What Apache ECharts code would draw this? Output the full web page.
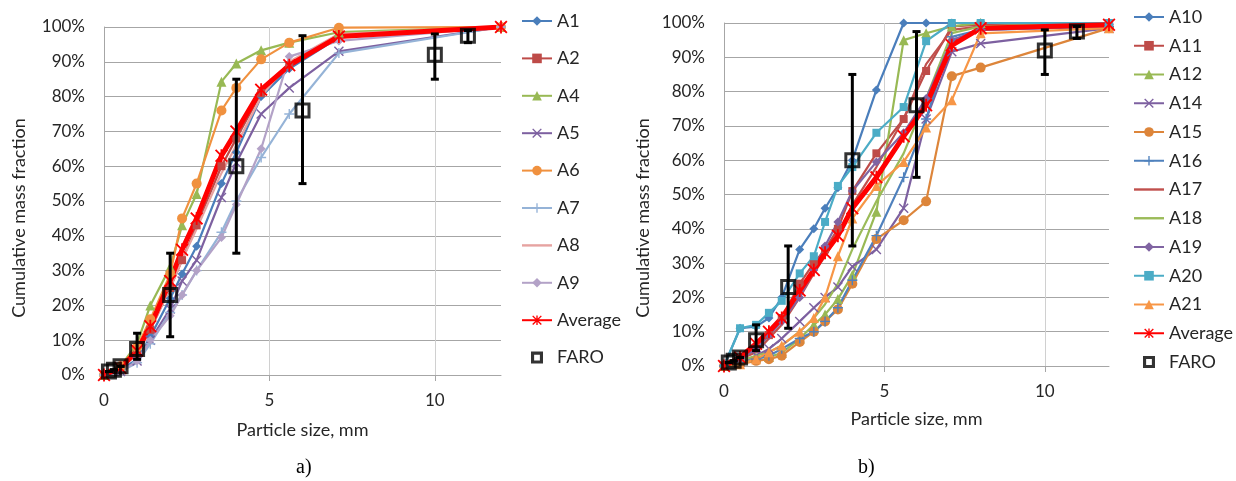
<!DOCTYPE html>
<html>
<head>
<meta charset="utf-8">
<script src="https://cdn.jsdelivr.net/npm/echarts@6/dist/echarts.min.js"></script>
<style>
  html, body { margin: 0; padding: 0; background: #fff; }
  #chart { width: 1236px; height: 481px; }
</style>
</head>
<body>
<div id="chart"></div>
<script>
// sieve sizes, mm
const leftSizes = [0, 0.5, 1, 1.4, 2, 2.36, 2.8, 3.55, 4, 4.75, 5.6, 7.1, 12];
const rightSizes = [0, 0.5, 1, 1.4, 1.8, 2.36, 2.8, 3.15, 3.55, 4, 4.75, 5.6, 6.3, 7.1, 8, 12];

// a) cumulative mass fraction, %
const a1 = [0, 1.5, 4.5, 11, 22, 29, 37, 55, 64, 80, 88, 97, 100];
const a2 = [0, 2, 6, 13, 25, 33, 43, 60, 68, 81, 89, 98, 100];
const a4 = [0, 2.5, 9, 20, 31, 43, 52, 84.3, 89.5, 93.3, 95.5, 98.5, 100];
const a5 = [0, 1, 4, 10, 19, 27, 33, 51, 61, 75, 82.5, 93, 100];
const a6 = [0, 2.5, 8, 16, 29, 45, 55, 76, 82.5, 90.7, 95.5, 99.8, 100];
const a7 = [0, 1, 3.5, 9, 18, 23, 30, 41, 50, 62.5, 75, 92.5, 100];
const a8 = [0, 2, 6, 13, 25, 33, 42, 58, 66, 80, 90, 98, 100];
const a9 = [0, 1, 4, 10, 17, 23, 30, 39.5, 49, 65, 91.5, 96, 100];
const avgLeft = [0, 2, 7, 14, 27, 36, 45, 63, 70, 82, 89, 97.3, 100];

// b) cumulative mass fraction, %
const a10 = [0, 11, 11.5, 14, 20, 34, 40, 46, 52, 60, 80.5, 100, 100, 100, 100, 100];
const a11 = [0, 2, 5, 9, 14, 24, 30, 34, 40, 51, 62, 72, 86, 99, 99.5, 100];
const a12 = [0, 2, 2.5, 2.6, 3.8, 8, 12, 15, 19.5, 26.5, 45, 95, 97, 99, 100, 100];
const a14 = [0, 1, 3, 5, 8, 13, 17, 20, 23, 29, 34, 46, 72, 91.6, 94, 98.5];
const a15 = [0, 0.5, 1.5, 2, 3, 7, 10, 13, 16.5, 24, 37, 42.5, 48, 84.5, 87, 98.5];
const a16 = [0, 1, 2, 3, 5, 8, 10, 13, 17, 25, 38, 55, 72, 96, 98, 99];
const a17 = [0, 2, 4, 8, 12, 20, 27, 32, 38, 47, 58, 72, 88, 98, 99, 100];
const a18 = [0, 1.5, 3, 4, 6, 10, 14, 18, 24, 34, 48, 62, 78, 97, 99, 100];
const a19 = [0, 2, 5, 9, 13, 20, 28, 35, 42, 51, 59.5, 68, 78, 95, 98, 99];
const a20 = [0, 11, 12, 15.5, 19, 27, 32, 42, 52.5, 58, 68, 75.5, 94.7, 100, 100, 100];
const a21 = [0, 0.5, 2, 4, 6, 10, 14, 20, 32, 43, 52.5, 59.5, 69.5, 77.5, 97, 98.5];
const avgRight = [0, 2.5, 6.5, 10, 14, 22, 28, 33, 38, 46, 55, 67, 76, 93.5, 98.5, 99.5];

// FARO with error bars (same in both panels)
const faroSizes = [0.15, 0.3, 0.5, 1, 2, 4, 6, 10, 11];
const faroValues = [1, 1.5, 2.5, 7.5, 23, 60, 76, 92, 97.5];
const faroLow = [1, 1.5, 2.5, 4.5, 11, 35, 55, 85, 95.5];
const faroHigh = [1, 1.5, 2.5, 12, 35, 85, 97.5, 98, 99];

const xTicks = [0, 5, 10];

const FONT = "Lato";
const TXT = "#262626";

const SYM_X = "path://M0,1 L1,0 L5,4 L9,0 L10,1 L6,5 L10,9 L9,10 L5,6 L1,10 L0,9 L4,5 Z";
const SYM_PLUS = "path://M4.3,0 H5.7 V4.3 H10 V5.7 H5.7 V10 H4.3 V5.7 H0 V4.3 H4.3 Z";
const SYM_STAR = "path://M0,1 L1,0 L5,4 L9,0 L10,1 L6,5 L10,9 L9,10 L5,6 L1,10 L0,9 L4,5 Z M4.3,0 H5.7 V10 H4.3 Z";
const ICON_LINE = "path://M0,0 H30 V2.4 H0 Z";
const ICON_BOX = "path://M0,0 H10 V10 H0 Z M2.6,2.6 V7.4 H7.4 V2.6 Z";

function pairs(xs, ys) {
  return xs.map((x, i) => [x, ys[i]]);
}

function lineSeries(name, xs, ys, color, symbol, size, idx, width) {
  return {
    name: name,
    type: "line",
    xAxisIndex: idx,
    yAxisIndex: idx,
    data: pairs(xs, ys),
    symbol: symbol,
    symbolSize: size,
    showSymbol: symbol !== "none",
    lineStyle: { color: color, width: width || 2.2 },
    itemStyle: { color: color },
    emphasis: { disabled: true },
  };
}

function faroSeries(idx) {
  return [
    {
      name: "FARO error",
      type: "custom",
      xAxisIndex: idx,
      yAxisIndex: idx,
      data: faroSizes.map((x, i) => [x, faroLow[i], faroHigh[i]]),
      encode: { x: 0, y: [1, 2] },
      z: 5,
      renderItem: function (params, api) {
        const lo = api.coord([api.value(0), api.value(1)]);
        const hi = api.coord([api.value(0), api.value(2)]);
        const w = 4;
        const st = { stroke: "#000", lineWidth: 3 };
        return {
          type: "group",
          children: [
            { type: "line", shape: { x1: lo[0], y1: lo[1], x2: hi[0], y2: hi[1] }, style: st },
            { type: "line", shape: { x1: lo[0] - w, y1: lo[1], x2: lo[0] + w, y2: lo[1] }, style: st },
            { type: "line", shape: { x1: hi[0] - w, y1: hi[1], x2: hi[0] + w, y2: hi[1] }, style: st },
          ],
        };
      },
    },
    {
      name: "FARO",
      type: "scatter",
      xAxisIndex: idx,
      yAxisIndex: idx,
      data: pairs(faroSizes, faroValues),
      symbol: "rect",
      symbolSize: 13,
      z: 6,
      itemStyle: { color: "rgba(255,255,255,0)", borderColor: "#000", borderWidth: 3 },
      emphasis: { disabled: true },
    },
  ];
}

function xAxis(idx) {
  return {
    type: "value",
    gridIndex: idx,
    min: 0,
    max: 12,
    interval: 1,
    name: "Particle size, mm",
    nameLocation: "middle",
    nameGap: idx === 0 ? 46 : 44,
    nameTextStyle: { fontFamily: FONT, fontSize: 18, color: TXT },
    axisLine: { lineStyle: { color: "#a6a6a6", width: 1 } },
    axisTick: { show: true, customValues: xTicks, length: 6, lineStyle: { color: "#a6a6a6" } },
    axisLabel: { customValues: xTicks, fontFamily: FONT, fontSize: 17, color: TXT, margin: 17 },
    splitLine: { show: true, lineStyle: { color: "#d0d0d0", width: 1 } },
  };
}

function yAxis(idx) {
  return {
    type: "value",
    gridIndex: idx,
    min: 0,
    max: 100,
    interval: 10,
    axisLine: { show: true, lineStyle: { color: "#a6a6a6", width: 1 } },
    axisTick: { show: false },
    axisLabel: { formatter: "{value}%", fontFamily: FONT, fontSize: 17, color: TXT, margin: 19 },
    splitLine: { show: true, lineStyle: { color: "#a6a6a6", width: 1 } },
  };
}

// y titles sit lower than the plot middle in the original, so place them by hand
function yTitle(x, y) {
  return {
    type: "text",
    x: x,
    y: y,
    rotation: Math.PI / 2,
    style: {
      text: "Cumulative mass fraction",
      font: "18px " + FONT,
      fill: TXT,
      align: "center",
      verticalAlign: "middle",
    },
  };
}

const series = [
  lineSeries("A1", leftSizes, a1, "#4a7ebb", "diamond", 9, 0),
  lineSeries("A2", leftSizes, a2, "#be4b48", "rect", 8, 0),
  lineSeries("A4", leftSizes, a4, "#98b954", "triangle", 10, 0),
  lineSeries("A5", leftSizes, a5, "#7d60a0", SYM_X, 10, 0),
  lineSeries("A6", leftSizes, a6, "#f0913f", "circle", 10, 0),
  lineSeries("A7", leftSizes, a7, "#95b3d7", SYM_PLUS, 10, 0),
  lineSeries("A8", leftSizes, a8, "#e6a3a1", "none", 0, 0),
  lineSeries("A9", leftSizes, a9, "#b3a2c7", "diamond", 9, 0),
  lineSeries("Average", leftSizes, avgLeft, "#ff0000", SYM_STAR, 13, 0, 5),
  ...faroSeries(0),

  lineSeries("A10", rightSizes, a10, "#4a7ebb", "diamond", 9, 1),
  lineSeries("A11", rightSizes, a11, "#be4b48", "rect", 8, 1),
  lineSeries("A12", rightSizes, a12, "#98b954", "triangle", 10, 1),
  lineSeries("A14", rightSizes, a14, "#7d60a0", SYM_X, 10, 1),
  lineSeries("A15", rightSizes, a15, "#dd853a", "circle", 10, 1),
  lineSeries("A16", rightSizes, a16, "#4f81bd", SYM_PLUS, 10, 1),
  lineSeries("A17", rightSizes, a17, "#c0504d", "none", 0, 1),
  lineSeries("A18", rightSizes, a18, "#9bbb59", "none", 0, 1),
  lineSeries("A19", rightSizes, a19, "#8064a2", "diamond", 9, 1),
  lineSeries("A20", rightSizes, a20, "#4bacc6", "rect", 8, 1),
  lineSeries("A21", rightSizes, a21, "#f79646", "triangle", 10, 1),
  lineSeries("Average", rightSizes, avgRight, "#ff0000", SYM_STAR, 13, 1, 5),
  ...faroSeries(1),
];

const legendText = { fontFamily: FONT, fontSize: 18, color: TXT, lineHeight: 20 };
const faroItem = { name: "FARO", icon: ICON_BOX, itemStyle: { color: "#000", borderWidth: 0 } };

const option = {
  animation: false,
  backgroundColor: "#fff",
  title: [
    { text: "a)", left: 291, top: 453, textStyle: { fontFamily: "Liberation Serif", fontSize: 20, fontWeight: "normal", color: "#000" } },
    { text: "b)", left: 853, top: 453, textStyle: { fontFamily: "Liberation Serif", fontSize: 20, fontWeight: "normal", color: "#000" } },
  ],
  graphic: [yTitle(19, 218), yTitle(643, 218)],
  grid: [
    { left: 104, top: 27, width: 397, height: 348 },
    { left: 724, top: 23, width: 385, height: 343 },
  ],
  xAxis: [xAxis(0), xAxis(1)],
  yAxis: [yAxis(0), yAxis(1)],
  legend: [
    {
      orient: "vertical",
      left: 516,
      top: 6,
      itemWidth: 30,
      itemHeight: 12,
      itemGap: 17.4,
      selectedMode: false,
      textStyle: legendText,
      data: ["A1", "A2", "A4", "A5", "A6", "A7", { name: "A8", icon: ICON_LINE }, "A9", "Average", faroItem],
    },
    {
      orient: "vertical",
      left: 1128,
      top: 2,
      itemWidth: 30,
      itemHeight: 12,
      itemGap: 8.75,
      selectedMode: false,
      textStyle: legendText,
      data: ["A10", "A11", "A12", "A14", "A15", "A16",
        { name: "A17", icon: ICON_LINE }, { name: "A18", icon: ICON_LINE },
        "A19", "A20", "A21", "Average", faroItem],
    },
  ],
  series: series,
};

const chart = echarts.init(document.getElementById("chart"), null, { renderer: "canvas" });
chart.setOption(option);
</script>
</body>
</html>
